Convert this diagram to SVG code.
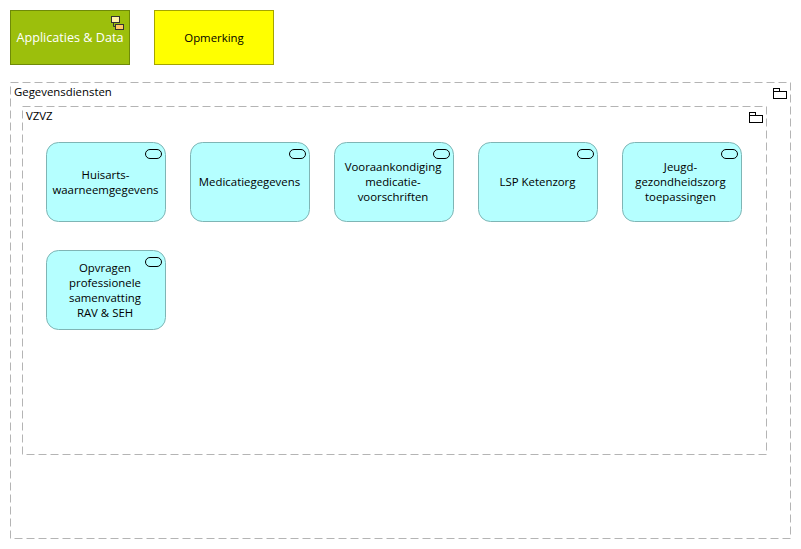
<svg xmlns="http://www.w3.org/2000/svg" width="801" height="549" viewBox="0 0 801 549">
<style>
text{font-family:"Open Sans","Noto Sans",sans-serif;font-size:11.4px;fill:#000}
.c{text-anchor:middle}
.grp{fill:#fff;stroke:#b4b4b4;stroke-dasharray:8 4}
.ic{fill:none;stroke:#000}
.svc{fill:#b5ffff;stroke:#7fb5b5}
.pill{fill:#b5ffff;stroke:#000}
</style>
<defs>
<g id="folder"><rect class="ic" y="3" width="13" height="7"/><rect class="ic" width="6" height="3"/></g>
<g id="svc"><rect class="svc" width="119" height="79" rx="12" ry="12"/><rect class="pill" x="99" y="7" width="16" height="9" rx="4.500" ry="4.500"/></g>
</defs>
<rect width="801" height="549" fill="#fff"/>
<g id="appdata"><rect x="10.500" y="10.500" width="119" height="54" fill="#9cbf0c" stroke="#6f8a08"/><path class="ic" d="M113.500 22V26.500H116" style="stroke:#333"/><rect x="111.500" y="16.500" width="8" height="6" fill="#fff2a8" stroke="#333"/><rect x="115.500" y="24.500" width="8" height="5" fill="#ffc864" stroke="#333"/><text class="c" x="70" y="42" style="fill:#fff;font-size:12.600px">Applicaties &amp; Data</text></g>
<g id="opmerking"><rect x="154.500" y="10.500" width="119" height="54" fill="#ffff00" stroke="#a5a500"/><text class="c" x="214" y="42">Opmerking</text></g>
<g id="gegevensdiensten"><rect class="grp" x="10.500" y="82.500" width="780" height="456"/><use href="#folder" x="773.500" y="88.500"/><text x="14" y="96">Gegevensdiensten</text></g>
<g id="vzvz"><rect class="grp" x="22.500" y="106.500" width="744" height="348"/><use href="#folder" x="749.500" y="112.500"/><text x="26" y="120">VZVZ</text></g>
<g id="s1"><use href="#svc" x="46.500" y="142.500"/><text class="c" x="105.500" y="179">Huisarts-</text><text class="c" x="105.500" y="194">waarneemgegevens</text></g>
<g id="s2"><use href="#svc" x="190.500" y="142.500"/><text class="c" x="249.500" y="186">Medicatiegegevens</text></g>
<g id="s3"><use href="#svc" x="334.500" y="142.500"/><text class="c" x="393" y="171">Vooraankondiging</text><text class="c" x="393" y="186">medicatie-</text><text class="c" x="393" y="201">voorschriften</text></g>
<g id="s4"><use href="#svc" x="478.500" y="142.500"/><text class="c" x="537.500" y="186">LSP Ketenzorg</text></g>
<g id="s5"><use href="#svc" x="622.500" y="142.500"/><text class="c" x="680.500" y="171">Jeugd-</text><text class="c" x="680.500" y="186">gezondheidszorg</text><text class="c" x="680.500" y="201">toepassingen</text></g>
<g id="s6"><use href="#svc" x="46.500" y="250.500"/><text class="c" x="105" y="272">Opvragen</text><text class="c" x="105" y="287">professionele</text><text class="c" x="105" y="302">samenvatting</text><text class="c" x="105" y="317">RAV &amp; SEH</text></g>
<g id="connectors"></g>
</svg>
